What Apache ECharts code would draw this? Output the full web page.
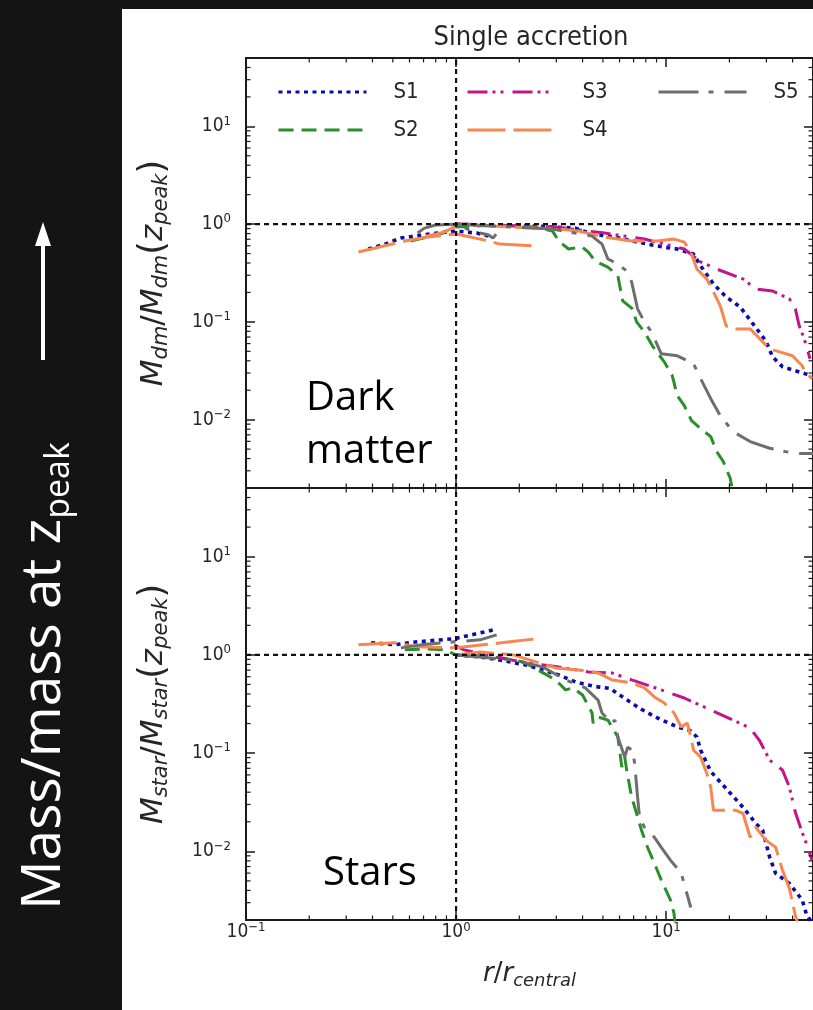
<!DOCTYPE html>
<html>
<head>
<meta charset="utf-8">
<script src="https://cdn.jsdelivr.net/npm/echarts@6/dist/echarts.min.js"></script>
<style>
  html, body { margin: 0; padding: 0; background: #141414; }
  #chart { width: 813px; height: 1010px; }
</style>
</head>
<body>
<div id="chart"></div>
<script>
// ---- axis ranges and tick values ----
const X_RANGE = [0.1, 50];
const Y_RANGE = [0.002, 50];
const X_MINOR = [0.2, 0.3, 0.4, 0.5, 0.6, 0.7, 0.8, 0.9, 2, 3, 4, 5, 6, 7, 8, 9, 20, 30, 40];
const Y_MINOR = [0.003, 0.004, 0.005, 0.006, 0.007, 0.008, 0.009,
                 0.02, 0.03, 0.04, 0.05, 0.06, 0.07, 0.08, 0.09,
                 0.2, 0.3, 0.4, 0.5, 0.6, 0.7, 0.8, 0.9,
                 2, 3, 4, 5, 6, 7, 8, 9, 20, 30, 40];
const REF_X = 1;   // r = r_central
const REF_Y = 1;   // mass = mass at z_peak

// ---- sample names ----
const SAMPLES = ['S1', 'S2', 'S3', 'S4', 'S5'];

// ---- dark matter: [r/r_central, M_dm/M_dm(z_peak)] ----
const dmS1 = [[0.382,0.556],[0.459,0.625],[0.546,0.72],[0.635,0.754],[0.815,0.81],[1.0,0.848],[1.255,0.81],[1.44,0.754],
  [null,null],
  [1.0,0.99],[1.93,0.977],[3.70,0.91],[4.44,0.79],[5.70,0.737],[7.31,0.655],[9.08,0.597],[11.3,0.556],[13.5,0.494],
  [14.6,0.373],[16.8,0.244],[19.3,0.18],[22.5,0.142],[25.9,0.0955],[29.8,0.064],[32.1,0.0439],[35.8,0.0347],
  [45.9,0.0295],[52,0.0275]];
const dmS2 = [[0.608,0.671],[0.731,0.737],[0.841,0.791],[0.979,0.932],[1.56,0.977],[2.40,0.932],[2.88,0.848],[3.08,0.671],
  [3.43,0.556],[3.99,0.583],[4.26,0.518],[4.59,0.419],[5.28,0.364],[5.89,0.295],[6.21,0.164],[6.92,0.136],[7.23,0.1],
  [7.88,0.079],[8.6,0.0569],[9.79,0.039],[10.7,0.0281],[11.3,0.0176],[12.2,0.0139],[13.2,0.00977],[14.6,0.0081],
  [16.3,0.00671],[17.4,0.00471],[18.7,0.00373],[20.2,0.0025],[20.6,0.00198]];
const dmS3 = [[1.0,1.0],[1.56,0.977],[2.98,0.932],[5.12,0.809],[7.88,0.703],[12.2,0.556],[14.6,0.41],[17.4,0.347],
  [23.2,0.275],[26.7,0.217],[32.1,0.207],[38.6,0.172],[41.2,0.136],[43.0,0.091],[45.4,0.067],[48.4,0.042]];
const dmS4 = [[0.343,0.518],[0.57,0.671],[0.731,0.737],[1.0,0.791],[1.44,0.671],[1.61,0.625],[2.45,0.597],
  [null,null],
  [0.72,0.75],[0.879,0.828],[0.977,0.932],[1.0,1.0],[1.87,0.932],[3.08,0.889],[3.82,0.848],[5.12,0.737],[6.85,0.671],
  [9.08,0.671],[10.9,0.703],[12.2,0.655],[13.1,0.518],[14.0,0.347],[15.6,0.275],[16.8,0.202],[18.1,0.146],[19.3,0.091],
  [21.5,0.0848],[25.1,0.0848],[27.9,0.0671],[31.1,0.053],[34.7,0.0494],[39.9,0.045],[44.4,0.0356],[45.9,0.0309],
  [49.5,0.0262]];
const dmS5 = [[0.656,0.81],[0.707,0.91],[0.8,0.98],[1.0,1.0],[1.2,0.84],[1.42,0.78],[1.5,0.72],[1.55,0.79],
  [null,null],
  [1.0,1.0],[2.88,0.889],[4.44,0.754],[4.95,0.625],[5.28,0.44],[5.89,0.391],[6.49,0.331],[6.85,0.256],[7.31,0.136],
  [7.88,0.1],[8.51,0.079],[9.48,0.0471],[11.3,0.045],[13.5,0.0373],[14.6,0.0262],[16.3,0.0164],[18.1,0.011],
  [20.8,0.00755],[25.1,0.00597],[31.1,0.0051],[37.0,0.00471],[43.0,0.0045],[52,0.0045]];

// ---- stars: [r/r_central, M_star/M_star(z_peak)] ----
const stS1 = [[0.394,1.33],[0.512,1.27],[0.656,1.36],[0.979,1.46],[1.51,1.80],
  [null,null],
  [1.0,1.0],[1.3,0.954],[1.6,0.889],[2.15,0.79],[2.59,0.703],[3.08,0.625],[3.70,0.53],[4.5,0.48],[5.4,0.455],
  [6.35,0.36],[7.6,0.28],[9.08,0.228],[11.3,0.185],[13.0,0.17],[14.0,0.146],[14.6,0.107],[16.3,0.065],[20.2,0.0391],
  [23.2,0.0281],[26.7,0.0193],[28.8,0.0164],[31.1,0.0087],[33.2,0.00597],[38.6,0.00471],[44.4,0.0032],[46.5,0.0023],
  [50,0.0018]];
const stS2 = [[0.57,1.125],[0.731,1.15],[0.879,1.125],[1.0,1.0],[1.51,0.954],[2.09,0.848],[2.98,0.556],[3.32,0.44],
  [3.6,0.461],[4.0,0.39],[4.44,0.256],[4.49,0.202],[4.74,0.233],[5.28,0.217],[5.89,0.146],[6.15,0.072],[6.35,0.091],
  [6.49,0.0671],[6.85,0.0356],[7.23,0.0244],[7.63,0.0164],[8.15,0.011],[8.79,0.00755],[9.48,0.0051],[10.5,0.00316],
  [10.9,0.00233],[11.0,0.0019]];
const stS3 = [[0.979,1.265],[1.09,1.125],[1.56,0.954],[2.15,0.829],[3.08,0.754],[4.26,0.671],[5.52,0.655],[6.85,0.556],
  [9.48,0.44],[12.2,0.364],[16.3,0.275],[20.8,0.217],[25.1,0.18],[27.9,0.133],[31.1,0.0848],[35.8,0.0671],[38.6,0.045],
  [41.2,0.025],[44.4,0.0156],[45.9,0.013],[49.5,0.0081]];
const stS4 = [[0.343,1.265],[0.512,1.326],[0.656,1.207],[1.0,1.18],[1.80,1.357],[2.40,1.456],
  [null,null],
  [1.0,1.0],[1.30,1.073],[1.87,1.0],[2.40,0.848],[2.98,0.737],[3.82,0.703],[4.74,0.655],[5.52,0.556],[6.85,0.518],
  [7.88,0.461],[8.79,0.373],[9.79,0.324],[10.9,0.256],[11.8,0.184],[12.6,0.202],[13.1,0.146],[13.5,0.107],[14.6,0.091],
  [15.6,0.0625],[16.3,0.045],[16.8,0.0262],[18.7,0.0262],[21.5,0.0262],[23.2,0.0244],[25.1,0.0139],[26.7,0.0176],
  [29.8,0.013],[33.2,0.011],[35.8,0.0064],[38.6,0.0042],[41.2,0.00222],[42.6,0.00176]];
const stS5 = [[0.546,1.179],[0.678,1.265],[0.979,1.357],[1.30,1.422],[1.56,1.60],
  [null,null],
  [1.0,1.0],[1.87,0.889],[2.59,0.754],[3.32,0.556],[4.12,0.461],[4.74,0.347],[4.95,0.256],[5.52,0.202],[5.70,0.217],
  [5.89,0.146],[6.35,0.091],[6.56,0.115],[6.92,0.107],[7.08,0.079],[7.31,0.0356],[7.47,0.0222],[7.88,0.0176],
  [8.79,0.0139],[9.48,0.011],[10.5,0.0081],[11.8,0.00597],[13.1,0.00268]];

const DM = [dmS1, dmS2, dmS3, dmS4, dmS5];
const ST = [stS1, stS2, stS3, stS4, stS5];

// ---- styling ----
const COLORS = ['#0c0ca8', '#2a8f2a', '#c0168a', '#f5874f', '#6e6e6e'];
const WIDTHS = [3.6, 3, 3, 3, 3];
const DASHES = [[4, 4.5], [15, 8], [20, 5, 3, 5, 3, 9], [38, 8], [40, 10, 5, 11]];
const MPL = 'DejaVu Sans Condensed, DejaVu Sans, sans-serif';
const MATH = 'DejaVu Sans, sans-serif';
const INK = '#262626';

const pow10Rich = {
  b: { fontFamily: MPL, fontSize: 19, color: INK, lineHeight: 23 },
  s: { fontFamily: MPL, fontSize: 13, color: INK, lineHeight: 13, verticalAlign: 'top' }
};
function pow10Label(v) {
  const e = Math.round(Math.log10(v));
  return '{b|10}{s|' + String(e).replace('-', '\u2212') + '}';
}

function mathRich(size, sub) {
  return {
    i: { fontFamily: MATH, fontStyle: 'italic', fontSize: size, color: INK, lineHeight: size + 6 },
    n: { fontFamily: MATH, fontSize: size, color: INK, lineHeight: size + 6 },
    p: { fontFamily: MATH, fontSize: size + 4, color: INK, lineHeight: size + 6 },
    sub: { fontFamily: MATH, fontStyle: 'italic', fontSize: sub, color: INK, lineHeight: sub + 1, verticalAlign: 'bottom' }
  };
}

const frame = { show: true, onZero: false, lineStyle: { color: '#1a1a1a', width: 2 } };
const tick = { show: true, inside: true, length: 9, lineStyle: { color: '#1a1a1a', width: 1.5 } };

function xAxis(grid, pos, labels) {
  return {
    type: 'log', logBase: 10, gridIndex: grid, position: pos, min: X_RANGE[0], max: X_RANGE[1],
    axisLine: frame, axisTick: tick, splitLine: { show: false },
    axisLabel: labels ? {
      show: true, margin: 1, formatter: pow10Label, rich: pow10Rich,
      showMinLabel: true, showMaxLabel: false
    } : { show: false },
    name: labels ? '{i|r}{n|/}{i|r}{sub|central}' : '',
    nameLocation: 'middle', nameGap: 38,
    nameTextStyle: { rich: mathRich(26, 18) }
  };
}
function yAxis(grid, pos, name) {
  return {
    type: 'log', logBase: 10, gridIndex: grid, position: pos, min: Y_RANGE[0], max: Y_RANGE[1],
    axisLine: frame, axisTick: tick, splitLine: { show: false },
    axisLabel: name ? {
      show: true, margin: 15, formatter: pow10Label, rich: pow10Rich,
      showMinLabel: false, showMaxLabel: false
    } : { show: false },
    name: name || '', nameLocation: 'middle', nameRotate: 90, nameGap: 74,
    nameTextStyle: { rich: mathRich(31, 21) }
  };
}

// minor ticks on all four sides of a panel, placed through the axes' own scales
function minorTicks(xi, yi) {
  const len = 4.5;
  const st = { stroke: '#1a1a1a', lineWidth: 1.2 };
  return [
    {
      type: 'custom', xAxisIndex: xi, yAxisIndex: yi, silent: true, z: 5,
      data: X_MINOR.map(v => [v, Y_RANGE[0]]),
      renderItem(params, api) {
        const lo = api.coord([api.value(0), Y_RANGE[0]]);
        const hi = api.coord([api.value(0), Y_RANGE[1]]);
        return { type: 'group', children: [
          { type: 'line', shape: { x1: lo[0], y1: lo[1], x2: lo[0], y2: lo[1] - len }, style: st },
          { type: 'line', shape: { x1: hi[0], y1: hi[1], x2: hi[0], y2: hi[1] + len }, style: st }
        ] };
      }
    },
    {
      type: 'custom', xAxisIndex: xi, yAxisIndex: yi, silent: true, z: 5,
      data: Y_MINOR.map(v => [X_RANGE[0], v]),
      renderItem(params, api) {
        const lf = api.coord([X_RANGE[0], api.value(1)]);
        const rt = api.coord([X_RANGE[1], api.value(1)]);
        return { type: 'group', children: [
          { type: 'line', shape: { x1: lf[0], y1: lf[1], x2: lf[0] + len, y2: lf[1] }, style: st },
          { type: 'line', shape: { x1: rt[0], y1: rt[1], x2: rt[0] - len, y2: rt[1] }, style: st }
        ] };
      }
    }
  ];
}

function refLines(xi, yi) {
  const ls = { color: '#111', width: 2.2, type: [5, 4] };
  return [
    { type: 'line', xAxisIndex: xi, yAxisIndex: yi, silent: true, showSymbol: false, z: 10,
      data: [[REF_X, Y_RANGE[0]], [REF_X, Y_RANGE[1]]], lineStyle: ls },
    { type: 'line', xAxisIndex: xi, yAxisIndex: yi, silent: true, showSymbol: false, z: 10,
      data: [[X_RANGE[0], REF_Y], [X_RANGE[1], REF_Y]], lineStyle: ls }
  ];
}

function sampleSeries(sets, xi, yi) {
  return sets.map((d, k) => ({
    name: SAMPLES[k], type: 'line', xAxisIndex: xi, yAxisIndex: yi,
    data: d, showSymbol: false, symbol: 'none', connectNulls: false, clip: true,
    color: COLORS[k],
    lineStyle: { color: COLORS[k], width: WIDTHS[k], type: DASHES[k] },
    z: 3 + k * 0.1
  }));
}

const legendText = { fontFamily: MPL, fontSize: 22, color: INK, padding: [0, 0, 0, 22], lineHeight: 20 };
function legend(names, left) {
  return {
    data: names, left: left, top: 81, orient: 'vertical', padding: 0,
    itemWidth: 88, itemHeight: 20, itemGap: 16, selectedMode: false,
    itemStyle: { color: 'rgba(0,0,0,0)', borderColor: 'rgba(0,0,0,0)', borderWidth: 0, opacity: 0 },
    lineStyle: { width: 3 },
    textStyle: legendText
  };
}

const chart = echarts.init(document.getElementById('chart'), null, { renderer: 'canvas' });
chart.setOption({
  animation: false,
  backgroundColor: '#141414',
  grid: [
    { left: 246, top: 58, width: 575, height: 430 },
    { left: 246, top: 488, width: 575, height: 432 }
  ],
  xAxis: [xAxis(0, 'bottom', false), xAxis(0, 'top', false), xAxis(1, 'top', false), xAxis(1, 'bottom', true)],
  yAxis: [
    yAxis(0, 'left', '{i|M}{sub|dm}{n|/}{i|M}{sub|dm}{p|(}{i|z}{sub|peak}{p|)}'),
    yAxis(0, 'right', null),
    yAxis(1, 'left', '{i|M}{sub|star}{n|/}{i|M}{sub|star}{p|(}{i|z}{sub|peak}{p|)}'),
    yAxis(1, 'right', null)
  ],
  legend: [legend(['S1', 'S2'], 277), legend(['S3', 'S4'], 466), legend(['S5'], 657)],
  graphic: [
    { type: 'rect', z: -10, silent: true, shape: { x: 122, y: 9, width: 700, height: 1010 }, style: { fill: '#ffffff' } },
    { type: 'text', x: 531, y: 38, silent: true,
      style: { text: 'Single accretion', align: 'center', verticalAlign: 'middle', fontFamily: MPL, fontSize: 27, fill: INK } },
    { type: 'text', x: 306, y: 399, silent: true,
      style: { text: 'Dark', align: 'left', verticalAlign: 'middle', fontFamily: 'Open Sans', fontSize: 40, fill: '#000' } },
    { type: 'text', x: 306, y: 452, silent: true,
      style: { text: 'matter', align: 'left', verticalAlign: 'middle', fontFamily: 'Open Sans', fontSize: 40, fill: '#000' } },
    { type: 'text', x: 323, y: 874, silent: true,
      style: { text: 'Stars', align: 'left', verticalAlign: 'middle', fontFamily: 'Open Sans', fontSize: 40, fill: '#000' } },
    { type: 'text', x: 44, y: 676, rotation: Math.PI / 2, silent: true,
      style: {
        text: '{a|Mass/mass at z}{s|peak}', align: 'center', verticalAlign: 'middle',
        rich: {
          a: { fontFamily: 'Open Sans', fontSize: 55, fill: '#ffffff', lineHeight: 64 },
          s: { fontFamily: 'Open Sans', fontSize: 34, fill: '#ffffff', lineHeight: 40, verticalAlign: 'bottom' }
        }
      } },
    { type: 'line', silent: true, shape: { x1: 43, y1: 360, x2: 43, y2: 240 }, style: { stroke: '#ffffff', lineWidth: 4 } },
    { type: 'polygon', silent: true, shape: { points: [[35, 246], [51, 246], [43, 222]] }, style: { fill: '#ffffff' } }
  ],
  series: [
    ...sampleSeries(DM, 0, 0),
    ...sampleSeries(ST, 3, 2),
    ...refLines(0, 0), ...refLines(3, 2),
    ...minorTicks(0, 0), ...minorTicks(3, 2)
  ]
});
</script>
</body>
</html>
